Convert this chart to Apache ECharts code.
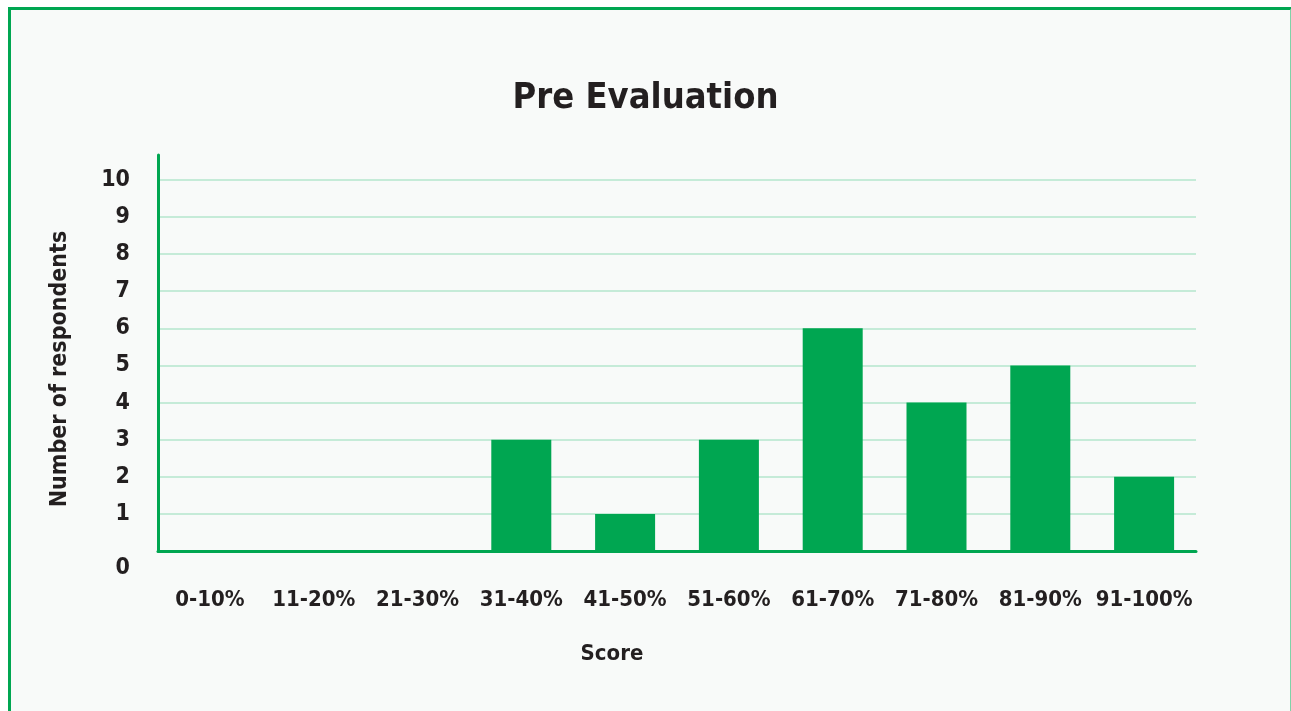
<!DOCTYPE html>
<html>
<head>
<meta charset="utf-8">
<script src="https://cdn.jsdelivr.net/npm/echarts@6/dist/echarts.min.js"></script>
<style>
  html, body { margin: 0; padding: 0; background: #ffffff; width: 1291px; height: 711px; overflow: hidden; }
  #frame { position: absolute; left: 8px; top: 7px; width: 1279px; height: 720px; border: 3px solid #00a651; border-right-color: #7fd3a8; border-right-width: 2px; background: #f8faf9; }
  #chart { position: absolute; left: 0; top: 0; width: 1291px; height: 711px; }
</style>
</head>
<body>
<div id="frame"></div>
<div id="chart"></div>
<script>
const categories = ['0-10%', '11-20%', '21-30%', '31-40%', '41-50%', '51-60%', '61-70%', '71-80%', '81-90%', '91-100%'];
const respondents = [0, 0, 0, 3, 1, 3, 6, 4, 5, 2];
const titleText = 'Pre Evaluation';
const xName = 'Score';
const yName = 'Number of respondents';

const FONT = "'Liberation Sans Narrow', 'DejaVu Sans Condensed', Roboto, sans-serif";
const chart = echarts.init(document.getElementById('chart'), null, { renderer: 'canvas' });
chart.setOption({
  backgroundColor: 'transparent',
  animation: false,
  title: {
    text: titleText, left: 'center', top: 76,
    textStyle: { fontFamily: FONT, fontWeight: 'bold', fontSize: 36, color: '#231f20' }
  },
  grid: { left: 158, right: 95, top: 155, bottom: 160, containLabel: false },
  xAxis: {
    type: 'category', data: categories,
    name: xName, nameLocation: 'middle', nameGap: 92,
    nameTextStyle: { fontFamily: FONT, fontWeight: 'bold', fontSize: 22, color: '#231f20', padding: [0, 130, 0, 0] },
    axisLine: { show: true, lineStyle: { color: '#00a651', width: 3 } },
    axisTick: { show: false },
    axisLabel: { margin: 38, fontFamily: FONT, fontWeight: 'bold', fontSize: 22, color: '#231f20', interval: 0 }
  },
  yAxis: {
    type: 'value', min: 0, max: 10.67, interval: 1,
    name: yName, nameLocation: 'middle', nameGap: 86, nameRotate: 90,
    nameTextStyle: { fontFamily: FONT, fontWeight: 'bold', fontSize: 23, color: '#231f20', padding: [0, 32, 0, 0] },
    axisLine: { show: true, lineStyle: { color: '#00a651', width: 3 } },
    axisTick: { show: false },
    splitLine: { show: true, showMinLine: false, showMaxLine: false, lineStyle: { color: '#b5e6cc', width: 1.5 } },
    axisLabel: {
      showMaxLabel: false, margin: 28, fontFamily: FONT, fontWeight: 'bold', fontSize: 23, color: '#231f20',
      formatter: function (v) { return v === 0 ? '{z|0}' : String(v); },
      rich: { z: { fontFamily: FONT, fontWeight: 'bold', fontSize: 23, color: '#231f20', padding: [34, 0, 0, 0] } }
    }
  },
  series: [{
    type: 'bar', data: respondents, barWidth: 60,
    itemStyle: { color: '#00a651' }
  }]
});
</script>
</body>
</html>
